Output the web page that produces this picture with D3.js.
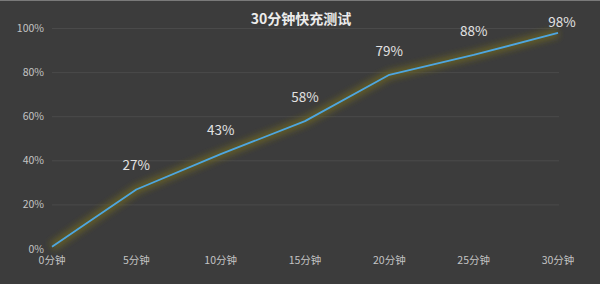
<!DOCTYPE html>
<html>
<head>
<meta charset="utf-8">
<script src="https://cdn.jsdelivr.net/npm/d3@7"></script>
<style>
  body { margin: 0; background: #3c3c3c; }
  svg { display: block; font-family: "Noto Sans CJK SC", "Noto Sans", sans-serif; }
</style>
</head>
<body>
<svg width="600" height="284"></svg>
<script>
// 充电时间 / 电量
const minutes = [0, 5, 10, 15, 20, 25, 30];
const timeLabels = ["0分钟", "5分钟", "10分钟", "15分钟", "20分钟", "25分钟", "30分钟"];
const charge = [1, 27, 43, 58, 79, 88, 98];
const shownLabels = ["", "27%", "43%", "58%", "79%", "88%", "98%"];
const yTicks = [0, 20, 40, 60, 80, 100];

const svg = d3.select("svg");
const W = 600, H = 284;

svg.append("rect").attr("width", W).attr("height", H).attr("fill", "#3c3c3c");
svg.append("line").attr("x1", 0).attr("x2", W).attr("y1", 0.5).attr("y2", 0.5)
  .attr("stroke", "#7a7a7a");

const x = d3.scaleLinear().domain([0, 30]).range([52, 558]);
const y = d3.scaleLinear().domain([0, 100]).range([249, 28.5]);

// 网格线
svg.append("g")
  .selectAll("line")
  .data(yTicks.slice(1))
  .enter()
  .append("line")
  .attr("x1", 52).attr("x2", 559)
  .attr("y1", d => y(d)).attr("y2", d => y(d))
  .attr("stroke", "#4a4a4a")
  .attr("stroke-width", 1);

// y轴标签
svg.append("g")
  .selectAll("text")
  .data(yTicks)
  .enter()
  .append("text")
  .attr("x", 44)
  .attr("y", d => y(d) + 3.5)
  .attr("text-anchor", "end")
  .attr("font-size", 10.5)
  .attr("fill", "#c4c4c4")
  .text(d => d + "%");

// x轴标签
svg.append("g")
  .selectAll("text")
  .data(minutes)
  .enter()
  .append("text")
  .attr("x", d => x(d))
  .attr("y", 264)
  .attr("text-anchor", "middle")
  .attr("font-size", 10.5)
  .attr("fill", "#c4c4c4")
  .text((d, i) => timeLabels[i]);

// 标题
svg.append("text")
  .attr("x", 301).attr("y", 24)
  .attr("text-anchor", "middle")
  .attr("font-size", 14)
  .attr("font-weight", "bold")
  .attr("fill", "#ececec")
  .text("30分钟快充测试");

const defs = svg.append("defs");
const blur = defs.append("filter").attr("id", "glow")
  .attr("x", "-10%").attr("y", "-20%").attr("width", "120%").attr("height", "140%");
blur.append("feGaussianBlur").attr("stdDeviation", 3);

const line = d3.line()
  .x((d, i) => x(minutes[i]))
  .y(d => y(d));

// 光晕
svg.append("path")
  .datum(charge)
  .attr("d", line)
  .attr("fill", "none")
  .attr("stroke", "#6e6522")
  .attr("stroke-width", 9)
  .attr("stroke-opacity", 0.75)
  .attr("stroke-linejoin", "round")
  .attr("filter", "url(#glow)");

svg.append("path")
  .datum(charge)
  .attr("d", line)
  .attr("fill", "none")
  .attr("stroke", "#4ea6e0")
  .attr("stroke-width", 1.8)
  .attr("stroke-linejoin", "round");

// 数据标签
svg.append("g")
  .selectAll("text")
  .data(charge)
  .enter()
  .append("text")
  .attr("x", (d, i) => x(minutes[i]) + (i === 6 ? 4 : 0))
  .attr("y", d => Math.max(y(d) - 19, 27))
  .attr("text-anchor", "middle")
  .attr("font-size", 13.5)
  .attr("fill", "#e2e2e2")
  .text((d, i) => shownLabels[i]);
</script>
</body>
</html>
